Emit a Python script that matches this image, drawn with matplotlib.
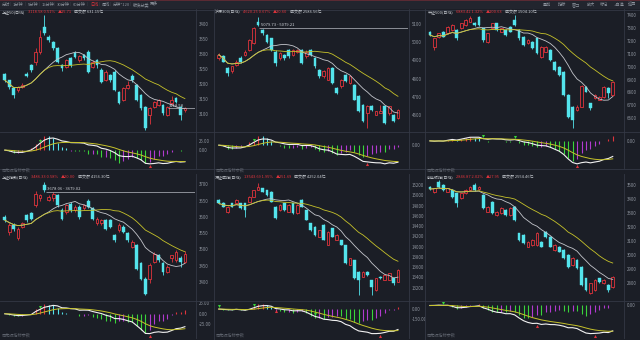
import numpy as np
import pandas as pd
import matplotlib
matplotlib.use("Agg")
import matplotlib.pyplot as plt
from matplotlib.patches import Rectangle
from matplotlib.lines import Line2D

plt.rcParams['font.family'] = ['Noto Sans CJK SC', 'DejaVu Sans']

W, H = 640, 340
BG = '#1b1e26'
BAR = '#22252e'
SEP = '#343844'
TXT = '#8e949e'
UP = '#e0343c'
DOWN = '#54e4ec'
MA_W = '#c4c6cc'
MA_Y = '#c6c22a'
H_RED, H_CYAN, H_GREEN, H_PURPLE = '#e0343c', '#54e4ec', '#3ad43a', '#b23ad0'

# ---- data ------------------------------------------------------------------
sz50_open = [3233, 3213, 3186, 3180, 3190, 3233, 3263, 3274, 3308, 3391, 3358, 3341, 3319, 3263,
             3258, 3286, 3304, 3280, 3296, 3306, 3258, 3280, 3247, 3213, 3230, 3241, 3174, 3147,
             3186, 3227, 3197, 3163, 3124, 3097, 3124, 3130, 3130, 3097, 3136, 3152, 3124, 3112]
sz50_high = [3238, 3215, 3190, 3195, 3205, 3240, 3268, 3320, 3380, 3430, 3362, 3345, 3322, 3268,
             3285, 3290, 3310, 3298, 3300, 3312, 3280, 3284, 3252, 3246, 3235, 3246, 3178, 3190,
             3210, 3232, 3200, 3166, 3128, 3124, 3145, 3150, 3134, 3128, 3160, 3156, 3128, 3124]
sz50_low = [3208, 3185, 3152, 3175, 3186, 3222, 3240, 3262, 3300, 3362, 3340, 3315, 3270, 3245,
            3252, 3258, 3286, 3275, 3280, 3236, 3252, 3255, 3204, 3210, 3208, 3176, 3132, 3142,
            3182, 3208, 3142, 3114, 3048, 3068, 3120, 3126, 3097, 3094, 3130, 3136, 3080, 3108]
sz50_close = [3213, 3189, 3163, 3189, 3197, 3227, 3247, 3308, 3358, 3369, 3347, 3319, 3274, 3252,
              3280, 3263, 3291, 3294, 3286, 3241, 3274, 3263, 3208, 3241, 3213, 3180, 3136, 3186,
              3197, 3213, 3147, 3119, 3052, 3119, 3141, 3147, 3102, 3124, 3147, 3141, 3097, 3119]

hs300_open = [4913, 4922, 4858, 4840, 4876, 4913, 4931, 4958, 4994, 5113, 5067, 5040, 5022, 4949,
              4913, 4931, 4958, 4931, 4945, 4958, 4922, 4958, 4913, 4849, 4812, 4794, 4858, 4749,
              4758, 4822, 4776, 4767, 4703, 4658, 4612, 4649, 4603, 4612, 4649, 4612, 4603, 4585]
hs300_high = [4940, 4930, 4862, 4872, 4900, 4925, 4960, 5020, 5085, 5140, 5072, 5045, 5025, 4955,
              4945, 4936, 4962, 4962, 4965, 4962, 4955, 4965, 4918, 4852, 4845, 4862, 4862, 4755,
              4800, 4828, 4818, 4772, 4708, 4662, 4655, 4655, 4625, 4655, 4616, 4652, 4608, 4632]
hs300_low = [4905, 4890, 4815, 4830, 4870, 4888, 4925, 4950, 4990, 5090, 5040, 4995, 4950, 4870,
             4905, 4905, 4915, 4925, 4940, 4880, 4915, 4925, 4860, 4805, 4805, 4790, 4770, 4715,
             4750, 4780, 4770, 4680, 4615, 4560, 4530, 4625, 4598, 4615, 4550, 4598, 4560, 4580]
hs300_close = [4931, 4894, 4831, 4867, 4894, 4894, 4949, 5013, 5076, 5095, 5049, 5004, 4958, 4885,
               4940, 4913, 4922, 4958, 4958, 4885, 4949, 4931, 4867, 4812, 4840, 4858, 4776, 4721,
               4794, 4785, 4812, 4685, 4621, 4567, 4649, 4630, 4621, 4621, 4558, 4649, 4567, 4630]

zz500_open = [7271, 7155, 7232, 7271, 7258, 7284, 7284, 7297, 7323, 7348, 7340, 7387, 7297, 7194,
              7297, 7335, 7271, 7284, 7310, 7361, 7284, 7232, 7181, 7194, 7219, 7078, 7116, 7129,
              7039, 7000, 6961, 6781, 6690, 6665, 6690, 6845, 6716, 6755, 6742, 6768, 6832, 6781]
zz500_high = [7280, 7225, 7262, 7275, 7315, 7330, 7290, 7340, 7370, 7390, 7345, 7392, 7300, 7262,
              7340, 7340, 7300, 7288, 7315, 7400, 7290, 7236, 7212, 7198, 7222, 7160, 7160, 7134,
              7042, 7004, 6965, 6786, 6695, 6700, 6860, 6850, 6720, 6790, 6775, 6850, 6840, 6890]
zz500_low = [7240, 7130, 7225, 7228, 7250, 7278, 7206, 7290, 7318, 7345, 7318, 7318, 7194, 7185,
             7290, 7280, 7265, 7240, 7265, 7318, 7210, 7160, 7175, 7135, 7098, 7070, 7110, 7045,
             6965, 6930, 6775, 6605, 6523, 6660, 6685, 6800, 6665, 6750, 6738, 6760, 6755, 6775]
zz500_close = [7245, 7219, 7258, 7232, 7310, 7323, 7219, 7335, 7361, 7374, 7323, 7323, 7206, 7258,
               7335, 7284, 7297, 7245, 7271, 7323, 7219, 7168, 7206, 7142, 7103, 7155, 7155, 7052,
               6974, 6936, 6781, 6613, 6587, 6690, 6850, 6807, 6678, 6781, 6768, 6845, 6794, 6884]

sh_open = [3600, 3554, 3575, 3534, 3570, 3606, 3611, 3636, 3657, 3698, 3652, 3657, 3667, 3621,
           3616, 3641, 3621, 3631, 3626, 3649, 3626, 3580, 3580, 3590, 3590, 3544, 3559, 3570,
           3549, 3508, 3513, 3457, 3410, 3410, 3462, 3482, 3457, 3431, 3472, 3467, 3472, 3462]
sh_high = [3605, 3580, 3580, 3570, 3585, 3610, 3615, 3680, 3672, 3708, 3668, 3676, 3670, 3626,
           3640, 3645, 3636, 3636, 3640, 3655, 3630, 3600, 3595, 3595, 3595, 3548, 3580, 3575,
           3552, 3528, 3516, 3460, 3415, 3457, 3493, 3487, 3462, 3451, 3482, 3498, 3480, 3495]
sh_low = [3585, 3545, 3555, 3528, 3565, 3585, 3590, 3630, 3650, 3678, 3648, 3650, 3630, 3590,
          3610, 3616, 3616, 3595, 3620, 3626, 3590, 3575, 3575, 3560, 3565, 3523, 3554, 3550,
          3523, 3503, 3436, 3405, 3360, 3395, 3457, 3462, 3421, 3426, 3462, 3462, 3446, 3457]
sh_close = [3590, 3575, 3564, 3564, 3580, 3590, 3595, 3672, 3667, 3683, 3662, 3672, 3636, 3595,
            3636, 3621, 3631, 3600, 3636, 3631, 3595, 3595, 3590, 3564, 3570, 3528, 3575, 3554,
            3528, 3523, 3441, 3410, 3364, 3451, 3487, 3467, 3431, 3446, 3482, 3493, 3462, 3487]

sz_open = [14908, 14842, 14680, 14842, 14842, 14842, 14842, 14875, 14972, 15102, 15135, 15102,
           15070, 14778, 14712, 14842, 14680, 14842, 14648, 14908, 14712, 14452, 14388, 14192,
           14420, 14030, 14355, 14128, 14128, 14030, 13640, 13738, 13510, 13412, 13510, 13348,
           13152, 13412, 13348, 13348, 13380, 13315]
sz_high = [14930, 14860, 14790, 14850, 14920, 14850, 14850, 14985, 15110, 15232, 15150, 15110,
           15080, 14790, 14820, 14850, 14820, 14850, 14820, 14920, 14720, 14460, 14395, 14330,
           14430, 14300, 14365, 14235, 14135, 14035, 13780, 13745, 13520, 13520, 13520, 13355,
           13390, 13420, 13455, 13490, 13390, 13555]
sz_low = [14830, 14770, 14660, 14770, 14830, 14730, 14582, 14860, 14960, 15095, 15060, 14995,
          14860, 14540, 14700, 14700, 14670, 14640, 14640, 14770, 14510, 14310, 14215, 14180,
          14120, 14020, 14185, 14120, 14020, 13660, 13630, 13370, 13055, 13400, 13430, 13055,
          13140, 13370, 13340, 13340, 13240, 13305]
sz_close = [14842, 14778, 14778, 14778, 14908, 14745, 14712, 14972, 15102, 15168, 15070, 15005,
            14875, 14550, 14810, 14712, 14810, 14648, 14810, 14778, 14518, 14322, 14225, 14322,
            14128, 14290, 14192, 14225, 14030, 13672, 13770, 13380, 13348, 13510, 13445, 13218,
            13380, 13380, 13445, 13478, 13282, 13543]

cyb_open = [3488, 3452, 3524, 3500, 3452, 3464, 3441, 3405, 3441, 3464, 3500, 3470, 3429, 3310,
            3381, 3286, 3298, 3322, 3286, 3346, 3156, 3144, 3061, 3072, 3072, 3096, 3168, 3132,
            3037, 3061, 3037, 3001, 2930, 2966, 2918, 2835, 2728, 2752, 2835, 2799, 2788, 2776]
cyb_high = [3495, 3480, 3536, 3505, 3482, 3470, 3445, 3446, 3470, 3494, 3512, 3495, 3434, 3352,
            3386, 3316, 3340, 3328, 3340, 3350, 3160, 3150, 3100, 3112, 3162, 3100, 3175, 3138,
            3078, 3066, 3042, 3006, 2984, 2972, 2924, 2840, 2805, 2830, 2840, 2830, 2795, 2852]
cyb_low = [3465, 3445, 3482, 3458, 3447, 3410, 3346, 3400, 3435, 3458, 3458, 3465, 3328, 3305,
           3290, 3280, 3292, 3280, 3280, 3245, 3100, 3078, 3055, 3066, 3066, 3055, 3126, 3055,
           3030, 3020, 2972, 2912, 2925, 2900, 2782, 2745, 2722, 2745, 2805, 2795, 2740, 2770]
cyb_close = [3471, 3476, 3488, 3464, 3476, 3417, 3369, 3441, 3464, 3488, 3464, 3488, 3334, 3346,
             3298, 3310, 3334, 3286, 3334, 3251, 3108, 3084, 3096, 3108, 3156, 3061, 3132, 3061,
             3072, 3025, 2978, 2918, 2978, 2906, 2788, 2752, 2799, 2823, 2811, 2823, 2752, 2846]

names = ['上证50(日线)', '沪深300(日线)', '中证500(日线)',
         '上证指数(日线)', '深证成指(日线)', '创业板指(日线)']
quotes = ['3118.58 0.51%', '4620.25 0.67%', '6883.42 1.32%',
          '3486.33 0.58%', '13543.69 1.95%', '2846.87 2.02%']
changes = ['▲15.71', '▲30.60', '▲100.63', '▲20.00', '▲251.69', '▲17.95']
turnover = ['成交额 631.15亿', '成交额 2586.56亿', '成交额 1504.10亿',
            '成交额 4156.30亿', '成交额 4252.04亿', '成交额 2554.46亿']

price_ticks = [range(3100, 3401, 50), range(4600, 5101, 100), range(6600, 7401, 100),
               range(3400, 3701, 50), range(13200, 15201, 200), range(2800, 3501, 100)]
macd_ticks = [[25, 0], [0], [0], [25, 0, -25], [0, -150], [0]]
sell_marks = [[8], [8], [12, 19], [8], [0, 8, 22], [3]]
buy_marks = [[33], [34], [33], [33], [13, 37], [24, 37]]

tools_left = ['分时', '1分钟', '5分钟', '15分钟', '30分钟', '60分钟', '日线', '周线',
              '分钟*120', '板块分类', '更多']
tools_right = ['叠加', '指标', '窗口', '放大', '标记', '+自选', '返回']

ohlc = [(sz50_open, sz50_high, sz50_low, sz50_close),
        (hs300_open, hs300_high, hs300_low, hs300_close),
        (zz500_open, zz500_high, zz500_low, zz500_close),
        (sh_open, sh_high, sh_low, sh_close),
        (sz_open, sz_high, sz_low, sz_close),
        (cyb_open, cyb_high, cyb_low, cyb_close)]

# ---- layout (pixels) --------------------------------------------------------
cols = [(0, 195), (214, 194), (425, 198)]
rows = [(10, 132, 168), (175, 300, 338)]
price_lims = [(3040, 3447), (4507, 5177), (6494, 7439),
              (3344, 3729), (12957, 15395), (2681, 3571)]
title_left = [2, 215, 428, 2, 215, 427]


def rect(x, y, w, h):
    return [x / W, 1 - (y + h) / H, w / W, h / H]


def ftext(x, y, s, color=TXT, size=3.2, **kw):
    return fig.text(x / W, 1 - y / H, s, color=color, fontsize=size, va='center',
                    ha='left', **kw)


def fline(x0, y0, x1, y1, color=SEP, lw=0.6):
    fig.add_artist(Line2D([x0 / W, x1 / W], [1 - y0 / H, 1 - y1 / H], color=color, lw=lw,
                          transform=fig.transFigure))


def style(ax, ticks, fmt):
    ax.set_facecolor(BG)
    for sp in ax.spines.values():
        sp.set_visible(False)
    ax.set_xticks([])
    ax.yaxis.tick_right()
    ax.set_yticks(list(ticks))
    ax.set_yticklabels([fmt(t) for t in ticks])
    ax.tick_params(axis='y', length=0, pad=2.5, labelsize=3.2, labelcolor=TXT)
    ax.set_xlim(-1.1, 43.3)


fig = plt.figure(figsize=(W / 100, H / 100), dpi=100, facecolor=BG)
renderer = fig.canvas.get_renderer()

# toolbar
fig.add_artist(Rectangle((0, 1 - 9 / H), 1, 9 / H, transform=fig.transFigure,
                         facecolor=BAR, edgecolor='none'))
fig.add_artist(Rectangle((0, 1 - 1 / H), 1, 1 / H, transform=fig.transFigure,
                         facecolor='#5a2a33', edgecolor='none'))
xs = [2, 13, 28, 42, 57, 73, 90, 102, 113, 133, 150]
for x, s in zip(xs, tools_left):
    ftext(x, 4.5, s, color=UP if s == '日线' else TXT, size=3.0)
    ftext(x - 3, 4.5, '|', color='#4a4e58', size=3.0)
xs = [543, 558, 572, 587, 600, 614, 628]
for x, s in zip(xs, tools_right):
    ftext(x, 4.5, s, size=3.0)

for k in range(6):
    r, c = divmod(k, 3)
    left, width = cols[c]
    top, mid, bot = rows[r]
    o, h, l, cl = (np.asarray(a, dtype=float) for a in ohlc[k])
    x = np.arange(len(cl))

    # price panel
    ax = fig.add_axes(rect(left, top, width, mid - top))
    style(ax, price_ticks[k], lambda t: f'{t}')
    ax.set_ylim(*price_lims[k])
    up = cl >= o
    ax.vlines(x, l, h, colors=np.where(up, UP, DOWN), lw=0.6, zorder=2)
    body_lo = np.minimum(o, cl)
    body_h = np.abs(cl - o)
    ax.bar(x[up], body_h[up], bottom=body_lo[up], width=0.62, facecolor=BG,
           edgecolor=UP, lw=0.6, zorder=3)
    ax.bar(x[~up], body_h[~up], bottom=body_lo[~up], width=0.62, facecolor=DOWN,
           edgecolor=DOWN, lw=0.3, zorder=3)
    s = pd.Series(cl)
    ax.plot(x, s.rolling(10, min_periods=1).mean(), color=MA_W, lw=0.6, zorder=4)
    ax.plot(x, s.rolling(20, min_periods=1).mean(), color=MA_Y, lw=0.6, zorder=4)

    # macd panel
    am = fig.add_axes(rect(left, mid, width, bot - mid))
    dif = s.ewm(span=12, adjust=False).mean() - s.ewm(span=26, adjust=False).mean()
    dea = dif.ewm(span=9, adjust=False).mean()
    hist = 2 * (dif - dea)
    prev = hist.shift(1).fillna(0)
    grow = hist.abs() >= prev.abs()
    hcol = np.where(hist >= 0, np.where(grow, H_RED, H_CYAN),
                    np.where(grow, H_GREEN, H_PURPLE))
    am.vlines(x, 0, hist, colors=hcol, lw=0.8)
    am.plot(x, dif, color='#f2f2f2', lw=0.8)
    am.plot(x, dea, color=MA_Y, lw=0.7)
    lo = min(dif.min(), dea.min(), hist.min())
    hi = max(dif.max(), dea.max(), hist.max())
    pad = (hi - lo) * 0.15
    am.set_ylim(lo - pad, hi + pad)
    style(am, macd_ticks[k], lambda t: f'{t:.2f}')
    off = (hi - lo) * 0.09
    for i in sell_marks[k]:
        am.plot(i, dif[i] + off, marker='v', ms=2.2, color=H_GREEN, mew=0)
    for i in buy_marks[k]:
        am.plot(i, dif[i] - off, marker='^', ms=2.2, color=UP, mew=0)

    # title line, pieces placed one after another
    ty = top + 2
    tx = title_left[k]
    for piece, col in [(names[k], '#c8ccd2'), (quotes[k], UP),
                       (changes[k], UP), (turnover[k], '#c8ccd2')]:
        t = ftext(tx, ty, piece, color=col, size=2.9)
        tx += t.get_window_extent(renderer).width + 2.5

    # separators and footer
    fline(left, mid + 0.5, left + (213 if c == 0 else 210 if c == 1 else 215), mid + 0.5)
    fline(left + width + 0.5, top - 1, left + width + 0.5, bot)
    ftext(left + 2, 170.5 if r == 0 else 335.5, '同花顺指标参数', color='#5c616b', size=3.0)

    if k == 0:
        ax.hlines(3118.58, 37.2, 43.3, color='#b8bcc4', lw=0.5, zorder=5)
        ax.text(37.3, 3126, '3118.58', color='#d0d4da', fontsize=3.0, va='center', zorder=5)
    if k == 1:
        ax.hlines(5077, 9.3, 43.3, color='#b8bcc4', lw=0.5, zorder=5)
        ax.text(9.6, 5093, '5079.73 - 5079.21', color='#d0d4da', fontsize=3.0, va='center')
    if k == 3:
        ax.hlines(3677, 9.3, 43.3, color='#b8bcc4', lw=0.5, zorder=5)
        ax.text(9.6, 3686, '3678.06 - 3679.02', color='#d0d4da', fontsize=3.0, va='center')

for xv in [213.5, 424.5]:
    fline(xv, 9, xv, H)
fline(0, 9.5, W, 9.5)
fline(0, 168.5, W, 168.5)

fig.savefig('out.png', dpi=100, facecolor=BG)
